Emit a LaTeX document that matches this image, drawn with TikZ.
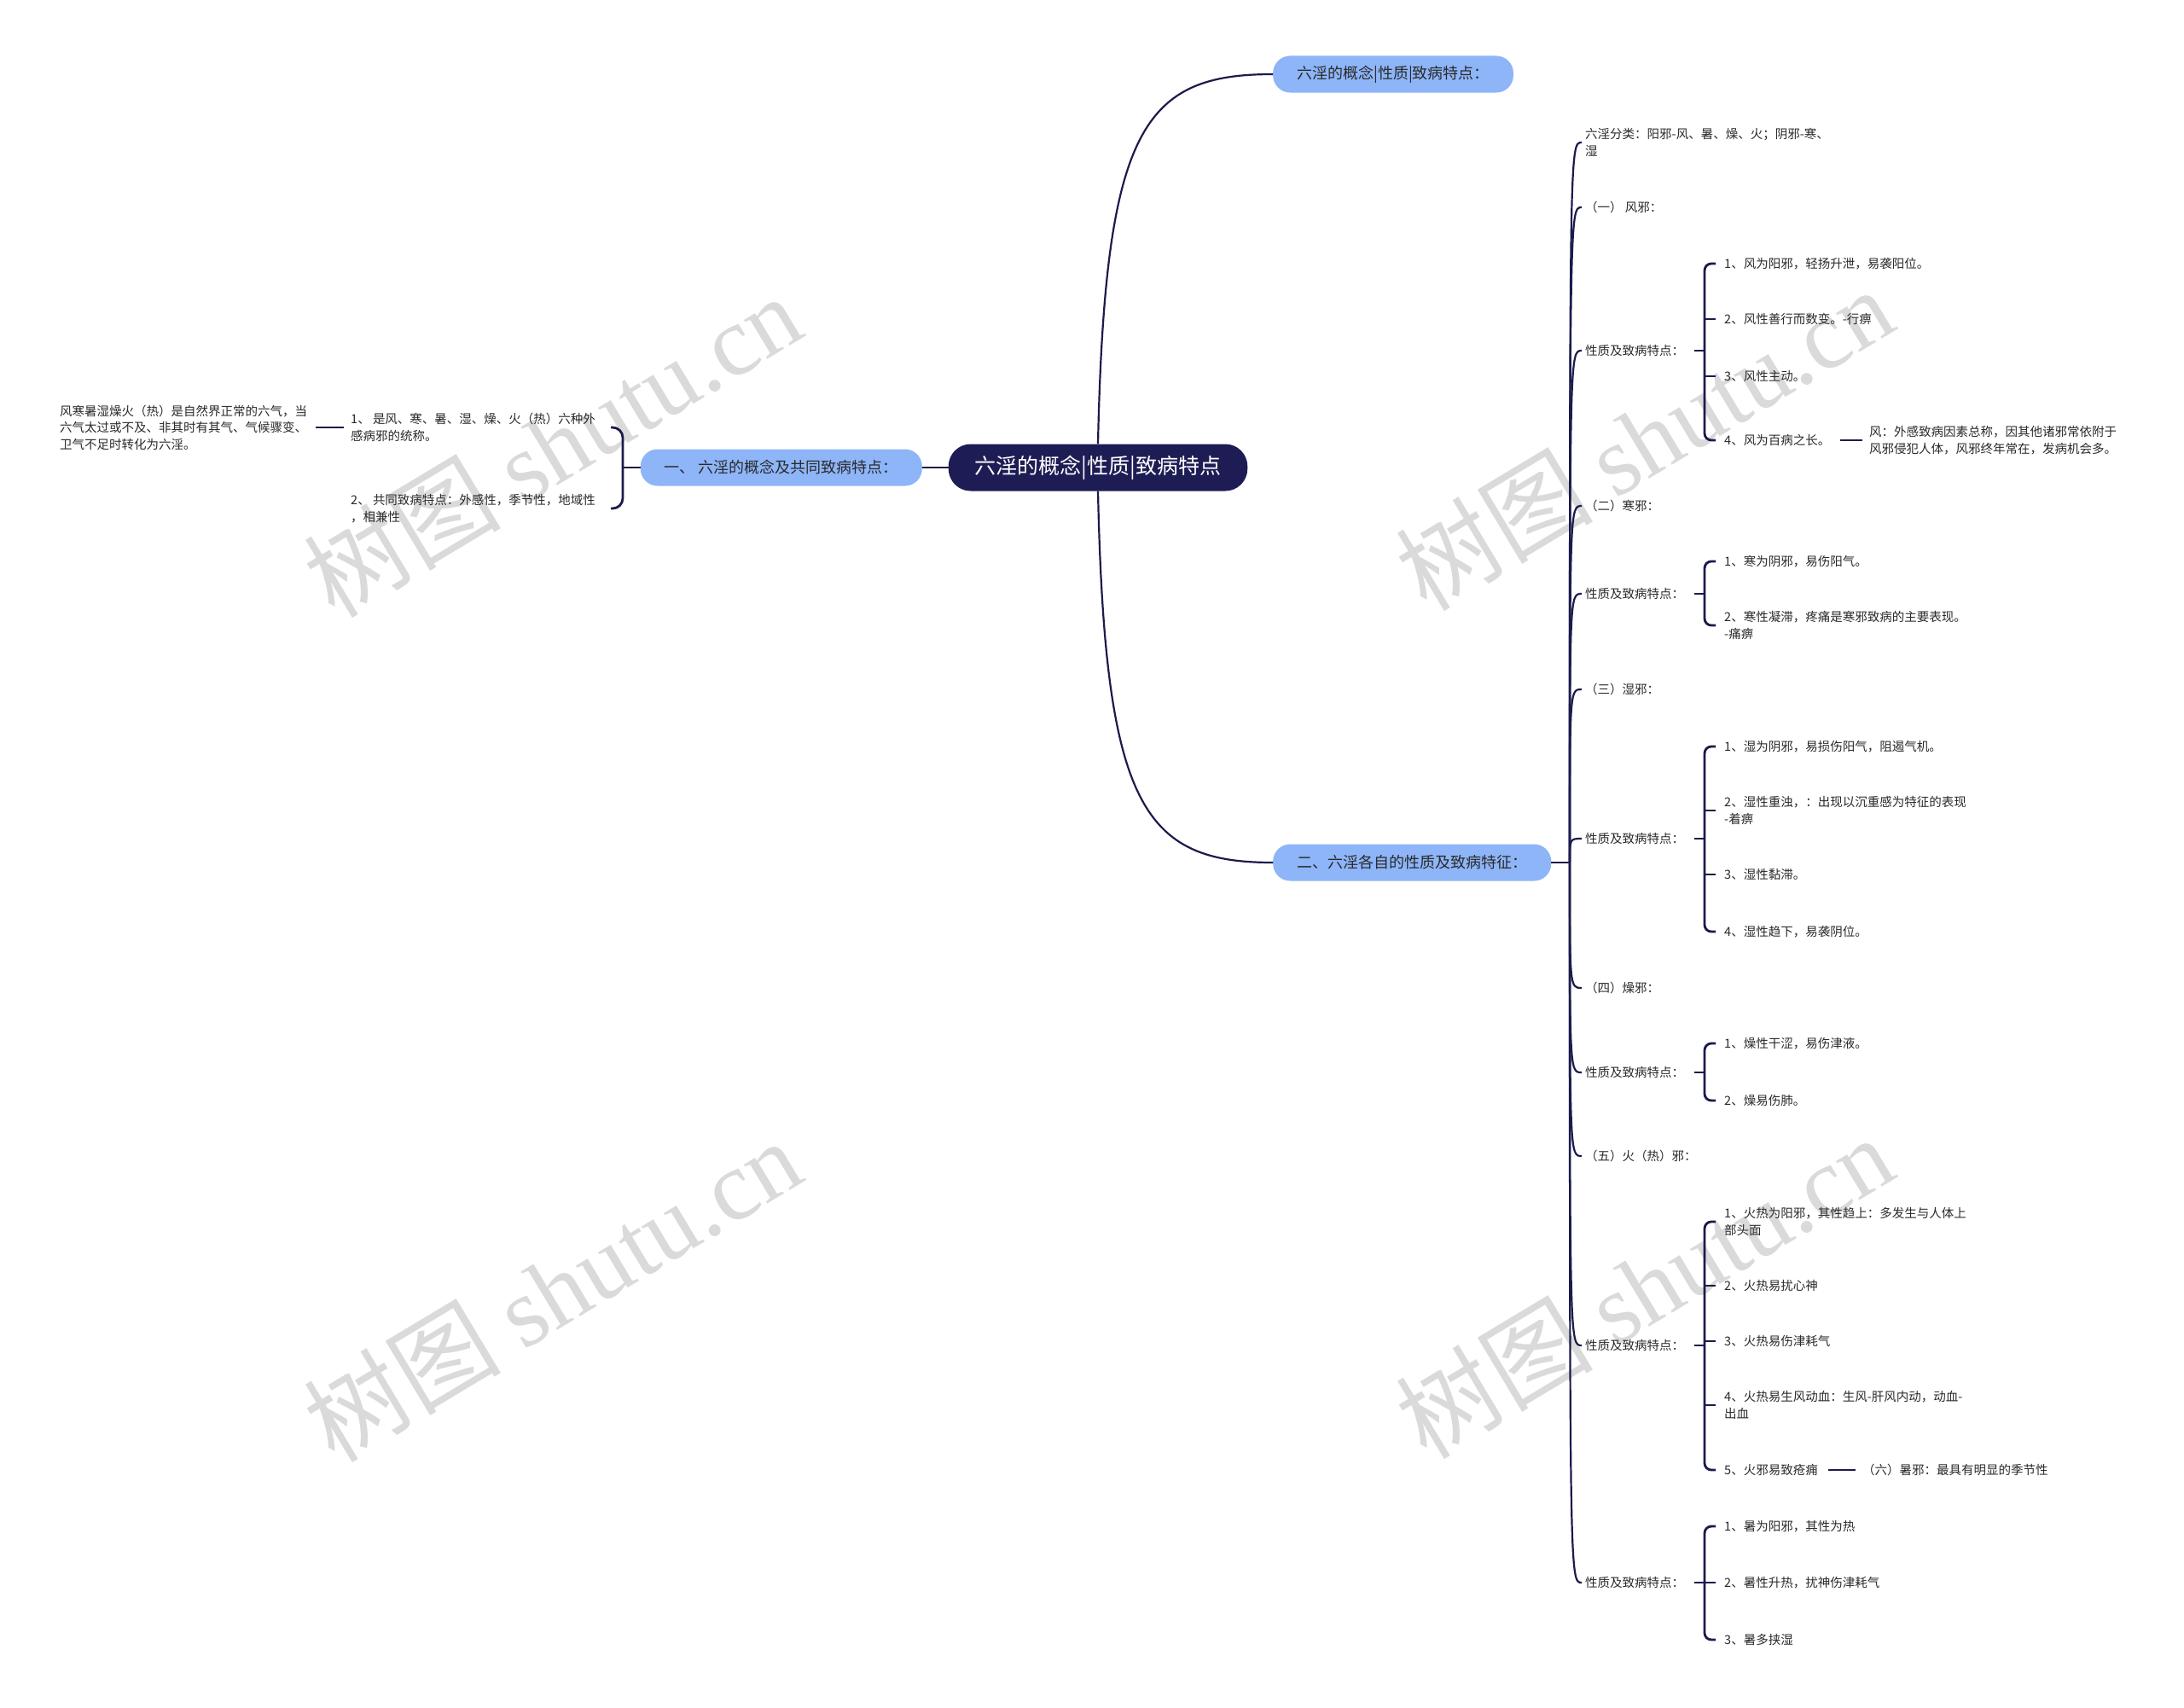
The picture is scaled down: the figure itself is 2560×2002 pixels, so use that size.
\documentclass[tikz,border=0pt]{standalone}
\usepackage{fontspec}
\setmainfont{Noto Sans CJK SC}
\newfontfamily\wmserif{Liberation Serif}
\usetikzlibrary{calc}
\definecolor{navy}{HTML}{1E1C54}
\definecolor{linec}{HTML}{1C1B4C}
\definecolor{nodeblue}{HTML}{8DB5F8}
\definecolor{txt}{HTML}{2A2A2A}
\definecolor{wmgray}{HTML}{DADADA}
\tikzset{
  conn/.style={draw=linec, line width=2.2pt},
  brk/.style={draw=linec, line width=2.8pt, rounded corners=8pt},
  leaf/.style={anchor=west, inner sep=0pt, align=left, text=txt, font=\fontsize{14.5}{19.6}\selectfont},
  bnode/.style={fill=nodeblue, rounded corners=20pt, minimum height=43pt, inner xsep=28pt, inner ysep=0pt, text=txt, font=\fontsize{18}{22}\selectfont},
  rootnode/.style={fill=navy, rounded corners=26pt, minimum height=55pt, inner xsep=31pt, inner ysep=0pt, text=white, font=\fontsize{25}{30}\selectfont},
  wm/.style={text=wmgray, font=\fontsize{116}{116}\selectfont, rotate=31, inner sep=0pt}
}
\begin{document}
\begin{tikzpicture}[x=1pt,y=-1pt]
\fill[white] (0,0) rectangle (2560,2002);
\useasboundingbox (0,0) rectangle (2560,2002);
% watermarks
\node[wm] (w1) at (647,522) {树图 {\wmserif shutu.cn}};
\node[wm] (w2) at (647,1512) {树图 {\wmserif shutu.cn}};
\node[wm] (w3) at (1927,514) {树图 {\wmserif shutu.cn}};
\node[wm] (w4) at (1927,1508) {树图 {\wmserif shutu.cn}};

% main nodes
\node[rootnode] (root) at (1287,548) {六淫的概念|性质|致病特点};
\node[bnode, anchor=west] (top) at (1492,87) {六淫的概念|性质|致病特点：};
\node[bnode, anchor=east] (b1) at (1081,548) {一、 六淫的概念及共同致病特点：};
\node[bnode, anchor=west] (b2) at (1492,1011) {二、六淫各自的性质及致病特征：};

\draw[conn] (root.north) .. controls (1295,150) and (1340,87) .. (top.west);
\draw[conn] (root.south) .. controls (1295,945) and (1340,1011) .. (b2.west);
\draw[conn] (root.west) -- (b1.east);

% left branch
\node[leaf] (c1) at (411,501) {1、 是风、寒、暑、湿、燥、火（热）六种外\\感病邪的统称。};
\node[leaf] (c2) at (411,596) {2、 共同致病特点：外感性，季节性，地域性\\，相兼性};
\node[leaf] (lf) at (70,501) {风寒暑湿燥火（热）是自然界正常的六气，当\\六气太过或不及、非其时有其气、气候骤变、\\卫气不足时转化为六淫。};
\coordinate (lb) at (730,548);
\draw[conn] (b1.west) -- (lb);
\draw[brk, rounded corners=12pt] (716,0 |- c1.west) -- (lb |- c1.west) -- (lb |- c2.west) -- (716,0 |- c2.west);
\draw[brk] ([xshift=10pt]lf.east) -- ([xshift=-8pt]c1.west);

% right branch children
\coordinate (sp) at (1840,1011);
\draw[conn] (b2.east) -- (sp);
\node[leaf] (r0) at (1858,167) {六淫分类：阳邪-风、暑、燥、火；阴邪-寒、\\湿};
\node[leaf] (r1) at (1858,243) {（一） 风邪：};
\node[leaf] (g1) at (1858,411) {性质及致病特点：};
\node[leaf] (r2) at (1858,593) {（二）寒邪：};
\node[leaf] (g2) at (1858,696) {性质及致病特点：};
\node[leaf] (r3) at (1858,808) {（三）湿邪：};
\node[leaf] (g3) at (1858,983) {性质及致病特点：};
\node[leaf] (r4) at (1858,1158) {（四）燥邪：};
\node[leaf] (g4) at (1858,1257) {性质及致病特点：};
\node[leaf] (r5) at (1858,1355) {（五）火（热）邪：};
\node[leaf] (g5) at (1858,1577) {性质及致病特点：};
\node[leaf] (g6) at (1858,1855) {性质及致病特点：};
\foreach \n in {r0,r1,g1,r2,g2,r3,g3,r4,g4,r5,g5,g6}
  \draw[conn] (sp) .. controls (sp |- \n.west) .. ([xshift=-4pt]\n.west);

% group 1
\coordinate (s1) at (1998,411);
\node[leaf] (i11) at (2021,309) {1、风为阳邪，轻扬升泄，易袭阳位。};
\node[leaf] (i12) at (2021,374) {2、风性善行而数变。-行痹};
\node[leaf] (i13) at (2021,441) {3、风性主动。};
\node[leaf] (i14) at (2021,516) {4、风为百病之长。};
\node[leaf] (f1) at (2191,516) {风：外感致病因素总称，因其他诸邪常依附于\\风邪侵犯人体，风邪终年常在，发病机会多。};
\draw[conn] ([xshift=12pt]g1.east) -- (s1);
\draw[brk] ([xshift=-10pt]i11.west) -- (s1 |- i11.west) -- (s1 |- i14.west) -- ([xshift=-10pt]i14.west);
\draw[brk] (s1 |- i12.west) -- ([xshift=-10pt]i12.west);
\draw[brk] (s1 |- i13.west) -- ([xshift=-10pt]i13.west);
\draw[brk] ([xshift=12pt]i14.east) -- ([xshift=-8pt]f1.west);

% group 2
\coordinate (s2) at (1998,696);
\node[leaf] (i21) at (2021,658) {1、寒为阴邪，易伤阳气。};
\node[leaf] (i22) at (2021,733) {2、寒性凝滞，疼痛是寒邪致病的主要表现。\\-痛痹};
\draw[conn] ([xshift=12pt]g2.east) -- (s2);
\draw[brk] ([xshift=-10pt]i21.west) -- (s2 |- i21.west) -- (s2 |- i22.west) -- ([xshift=-10pt]i22.west);

% group 3
\coordinate (s3) at (1998,983);
\node[leaf] (i31) at (2021,875) {1、湿为阴邪，易损伤阳气，阻遏气机。};
\node[leaf] (i32) at (2021,950) {2、湿性重浊，：出现以沉重感为特征的表现\\-着痹};
\node[leaf] (i33) at (2021,1025) {3、湿性黏滞。};
\node[leaf] (i34) at (2021,1092) {4、湿性趋下，易袭阴位。};
\draw[conn] ([xshift=12pt]g3.east) -- (s3);
\draw[brk] ([xshift=-10pt]i31.west) -- (s3 |- i31.west) -- (s3 |- i34.west) -- ([xshift=-10pt]i34.west);
\draw[brk] (s3 |- i32.west) -- ([xshift=-10pt]i32.west);
\draw[brk] (s3 |- i33.west) -- ([xshift=-10pt]i33.west);

% group 4
\coordinate (s4) at (1998,1257);
\node[leaf] (i41) at (2021,1223) {1、燥性干涩，易伤津液。};
\node[leaf] (i42) at (2021,1290) {2、燥易伤肺。};
\draw[conn] ([xshift=12pt]g4.east) -- (s4);
\draw[brk] ([xshift=-10pt]i41.west) -- (s4 |- i41.west) -- (s4 |- i42.west) -- ([xshift=-10pt]i42.west);

% group 5
\coordinate (s5) at (1998,1577);
\node[leaf] (i51) at (2021,1432) {1、火热为阳邪，其性趋上：多发生与人体上\\部头面};
\node[leaf] (i52) at (2021,1507) {2、火热易扰心神};
\node[leaf] (i53) at (2021,1572) {3、火热易伤津耗气};
\node[leaf] (i54) at (2021,1647) {4、火热易生风动血：生风-肝风内动，动血-\\出血};
\node[leaf] (i55) at (2021,1723) {5、火邪易致疮痈};
\node[leaf] (f5) at (2183,1723) {（六）暑邪：最具有明显的季节性};
\draw[conn] ([xshift=12pt]g5.east) -- (s5);
\draw[brk] ([xshift=-10pt]i51.west) -- (s5 |- i51.west) -- (s5 |- i55.west) -- ([xshift=-10pt]i55.west);
\draw[brk] (s5 |- i52.west) -- ([xshift=-10pt]i52.west);
\draw[brk] (s5 |- i53.west) -- ([xshift=-10pt]i53.west);
\draw[brk] (s5 |- i54.west) -- ([xshift=-10pt]i54.west);
\draw[brk] ([xshift=12pt]i55.east) -- ([xshift=-8pt]f5.west);

% group 6
\coordinate (s6) at (1998,1855);
\node[leaf] (i61) at (2021,1789) {1、暑为阳邪，其性为热};
\node[leaf] (i62) at (2021,1855) {2、暑性升热，扰神伤津耗气};
\node[leaf] (i63) at (2021,1922) {3、暑多挟湿};
\draw[conn] ([xshift=12pt]g6.east) -- (s6);
\draw[brk] ([xshift=-10pt]i61.west) -- (s6 |- i61.west) -- (s6 |- i63.west) -- ([xshift=-10pt]i63.west);
\draw[brk] (s6 |- i62.west) -- ([xshift=-10pt]i62.west);
\end{tikzpicture}
\end{document}
